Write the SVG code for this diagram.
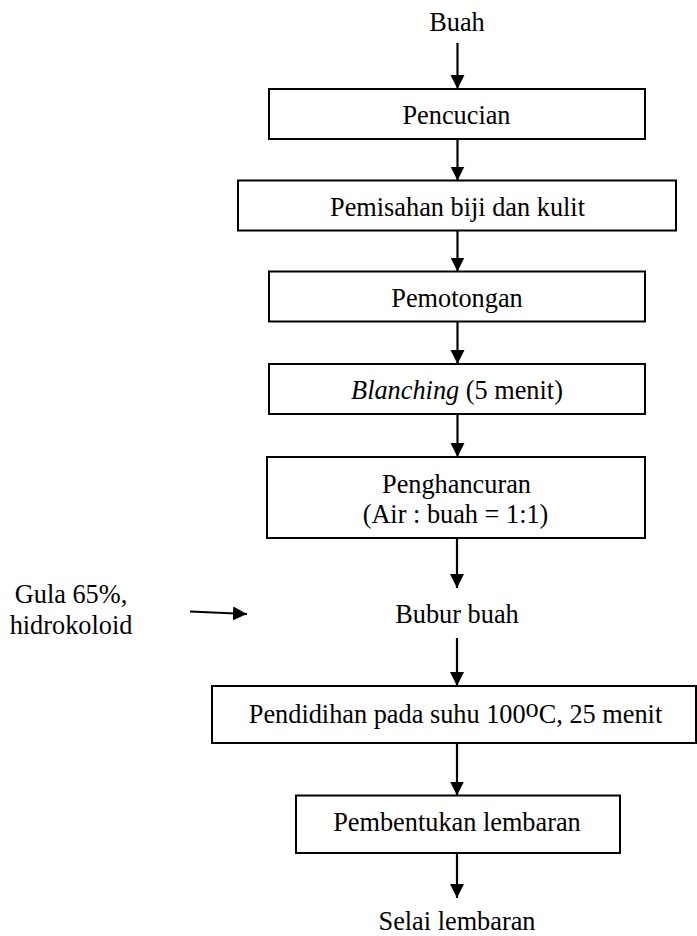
<svg xmlns="http://www.w3.org/2000/svg" width="697" height="936" viewBox="0 0 697 936">
<style>
text{font-family:"Liberation Serif","Times New Roman",serif;font-size:26.3px;fill:#000;text-anchor:middle}
.box{fill:#fff;stroke:#000;stroke-width:2}
.arr{stroke:#000;stroke-width:2.2;fill:none;marker-end:url(#ah)}
</style>
<defs>
<marker id="ah" markerUnits="userSpaceOnUse" markerWidth="15" markerHeight="15" refX="14" refY="7.5" orient="auto">
<path d="M0,0.5 L14,7.5 L0,14.5 z" fill="#000"/>
</marker>
</defs>
<rect width="697" height="936" fill="#fff"/>
<g id="connectors">
<line class="arr" x1="457.5" y1="43" x2="457.5" y2="89"/>
<line class="arr" x1="457.5" y1="139" x2="457.5" y2="180.5"/>
<line class="arr" x1="457.5" y1="230.5" x2="457.5" y2="271.5"/>
<line class="arr" x1="457.5" y1="321.5" x2="457.5" y2="364"/>
<line class="arr" x1="457.5" y1="414" x2="457.5" y2="457"/>
<line class="arr" x1="457" y1="538" x2="457" y2="588"/>
<line class="arr" x1="457" y1="638" x2="457" y2="686"/>
<line class="arr" x1="457" y1="743" x2="457" y2="795.5"/>
<line class="arr" x1="457" y1="853" x2="457" y2="898"/>
<line class="arr" x1="190" y1="611.5" x2="247" y2="614"/>
</g>
<g id="buah"><text x="457" y="30.5">Buah</text></g>
<g id="pencucian"><rect class="box" x="269" y="89" width="376" height="50"/><text x="456.5" y="124">Pencucian</text></g>
<g id="pemisahan"><rect class="box" x="238" y="180.5" width="438" height="50"/><text x="457.5" y="216">Pemisahan biji dan kulit</text></g>
<g id="pemotongan"><rect class="box" x="269" y="271.5" width="376" height="50"/><text x="457" y="307">Pemotongan</text></g>
<g id="blanching"><rect class="box" x="269" y="364" width="376" height="50"/><text x="457" y="399"><tspan font-style="italic">Blanching</tspan> (5 menit)</text></g>
<g id="penghancuran"><rect class="box" x="267" y="457" width="378" height="81"/><text x="456.5" y="493">Penghancuran</text><text x="455.5" y="523">(Air : buah = 1:1)</text></g>
<g id="bubur"><text x="457" y="623">Bubur buah</text></g>
<g id="gula"><text x="71" y="603">Gula 65%,</text><text x="71" y="634">hidrokoloid</text></g>
<g id="pendidihan"><rect class="box" x="212" y="686" width="484" height="57"/><text x="455.5" y="722.5">Pendidihan pada suhu 100<tspan dy="-6">o</tspan><tspan dy="6">C, 25 menit</tspan></text></g>
<g id="pembentukan"><rect class="box" x="296" y="795.5" width="324" height="57.5"/><text x="457" y="830.5">Pembentukan lembaran</text></g>
<g id="selai"><text x="457" y="929.5">Selai lembaran</text></g>
</svg>
